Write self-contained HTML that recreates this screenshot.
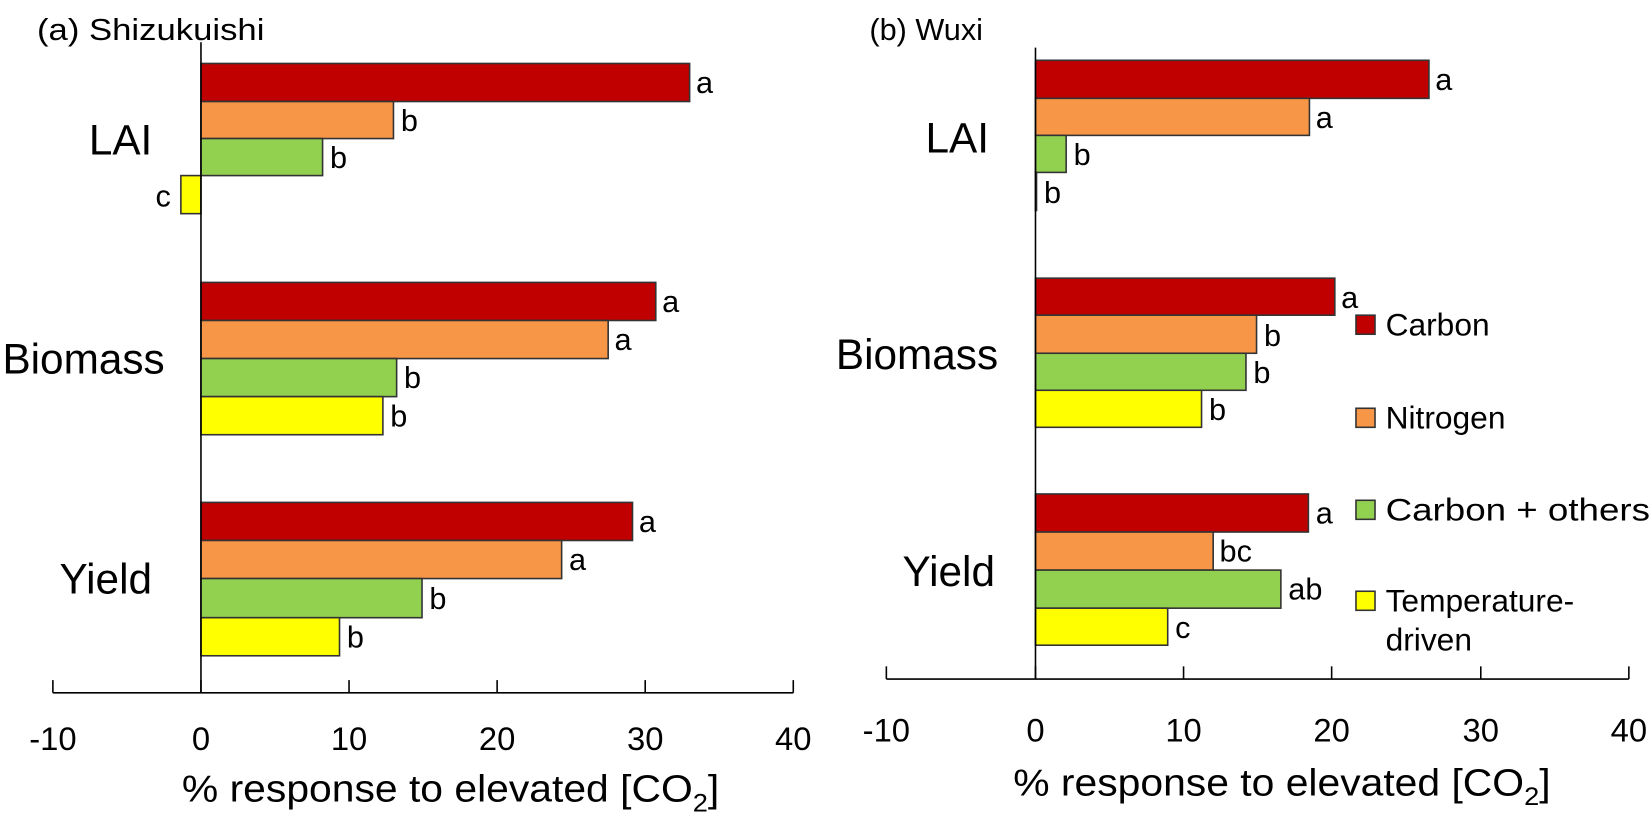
<!DOCTYPE html>
<html><head><meta charset="utf-8"><style>
html,body{margin:0;padding:0;background:#fff;}
svg{display:block;font-family:"Liberation Sans",sans-serif;}
</style></head><body>
<svg width="1650" height="821" viewBox="0 0 1650 821" xmlns="http://www.w3.org/2000/svg">
<g transform="scale(1.0577)">
<g stroke="#333" stroke-width="1.5">
<rect x="190" y="60" width="462" height="36" fill="#c00000"/>
<rect x="190" y="96" width="182" height="35" fill="#f79646"/>
<rect x="190" y="131" width="115" height="35" fill="#92d050"/>
<rect x="171" y="166" width="19" height="36" fill="#ffff00"/>
<rect x="190" y="267" width="430" height="36" fill="#c00000"/>
<rect x="190" y="303" width="385" height="36" fill="#f79646"/>
<rect x="190" y="339" width="185" height="36" fill="#92d050"/>
<rect x="190" y="375" width="172" height="36" fill="#ffff00"/>
<rect x="190" y="475" width="408" height="36" fill="#c00000"/>
<rect x="190" y="511" width="341" height="36" fill="#f79646"/>
<rect x="190" y="547" width="209" height="37" fill="#92d050"/>
<rect x="190" y="584" width="131" height="36" fill="#ffff00"/>
<rect x="979" y="57" width="372" height="36" fill="#c00000"/>
<rect x="979" y="93" width="259" height="35" fill="#f79646"/>
<rect x="979" y="128" width="29" height="35" fill="#92d050"/>
<rect x="979" y="163" width="1" height="36" fill="#ffff00"/>
<rect x="979" y="263" width="283" height="35" fill="#c00000"/>
<rect x="979" y="298" width="209" height="36" fill="#f79646"/>
<rect x="979" y="334" width="199" height="35" fill="#92d050"/>
<rect x="979" y="369" width="157" height="35" fill="#ffff00"/>
<rect x="979" y="467" width="258" height="36" fill="#c00000"/>
<rect x="979" y="503" width="168" height="36" fill="#f79646"/>
<rect x="979" y="539" width="232" height="36" fill="#92d050"/>
<rect x="979" y="575" width="125" height="35" fill="#ffff00"/>
<rect x="1282" y="298" width="18" height="18" fill="#c00000"/>
<rect x="1282" y="386" width="18" height="18" fill="#f79646"/>
<rect x="1282" y="473" width="18" height="18" fill="#92d050"/>
<rect x="1282" y="559" width="18" height="18" fill="#ffff00"/>
</g>
<g stroke="#000" stroke-width="1.5" fill="none">
<line x1="190" y1="40" x2="190" y2="655"/>
<line x1="50" y1="655" x2="750" y2="655"/>
<line x1="50" y1="643" x2="50" y2="655"/><line x1="190" y1="643" x2="190" y2="655"/>
<line x1="330" y1="643" x2="330" y2="655"/><line x1="470" y1="643" x2="470" y2="655"/>
<line x1="610" y1="643" x2="610" y2="655"/><line x1="750" y1="643" x2="750" y2="655"/>
<line x1="979" y1="45" x2="979" y2="642"/>
<line x1="838" y1="642" x2="1540" y2="642"/>
<line x1="838" y1="630" x2="838" y2="642"/><line x1="979" y1="630" x2="979" y2="642"/>
<line x1="1119" y1="630" x2="1119" y2="642"/><line x1="1259" y1="630" x2="1259" y2="642"/>
<line x1="1400" y1="630" x2="1400" y2="642"/><line x1="1540" y1="630" x2="1540" y2="642"/>
</g>
<g fill="#000" font-size="29">
<text x="35" y="38" textLength="215" lengthAdjust="spacingAndGlyphs">(a) Shizukuishi</text>
<text x="822" y="38">(b) Wuxi</text>
<text x="658" y="88">a</text><text x="379" y="124">b</text><text x="312" y="159">b</text><text x="147" y="195">c</text>
<text x="626" y="295">a</text><text x="581" y="331">a</text><text x="382" y="367">b</text><text x="369" y="403">b</text>
<text x="604" y="503">a</text><text x="538" y="539">a</text><text x="406" y="576">b</text><text x="328" y="612">b</text>
<text x="1357" y="85">a</text><text x="1244" y="121">a</text><text x="1015" y="156">b</text><text x="987" y="192">b</text>
<text x="1268" y="291">a</text><text x="1195" y="327">b</text><text x="1185" y="362">b</text><text x="1143" y="397">b</text>
<text x="1244" y="495">a</text><text x="1153" y="531">bc</text><text x="1218" y="567">ab</text><text x="1111" y="603">c</text>
</g>
<g fill="#000" font-size="30">
<text x="1310" y="317">Carbon</text>
<text x="1310" y="405">Nitrogen</text>
<text x="1310" y="492" textLength="250" lengthAdjust="spacingAndGlyphs">Carbon + others</text>
<text x="1310" y="578">Temperature-</text>
<text x="1310" y="615">driven</text>
</g>
<g fill="#000" font-size="31" text-anchor="middle">
<text x="50" y="709">-10</text><text x="190" y="709">0</text><text x="330" y="709">10</text>
<text x="470" y="709">20</text><text x="610" y="709">30</text><text x="750" y="709">40</text>
<text x="838" y="701">-10</text><text x="979" y="701">0</text><text x="1119" y="701">10</text>
<text x="1259" y="701">20</text><text x="1400" y="701">30</text><text x="1540" y="701">40</text>
</g>
<g fill="#000" font-size="36">
<text x="172" y="758" textLength="508" lengthAdjust="spacingAndGlyphs">% response to elevated [CO<tspan font-size="24" dy="9">2</tspan><tspan dy="-9">]</tspan></text>
<text x="958" y="752" textLength="508" lengthAdjust="spacingAndGlyphs">% response to elevated [CO<tspan font-size="24" dy="9">2</tspan><tspan dy="-9">]</tspan></text>
</g>
<g fill="#000" font-size="40" text-anchor="middle">
<text x="114" y="146">LAI</text>
<text x="79" y="353">Biomass</text>
<text x="100" y="561">Yield</text>
<text x="905" y="144">LAI</text>
<text x="867" y="349">Biomass</text>
<text x="897" y="554">Yield</text>
</g>
</g>
</svg>
</body></html>
